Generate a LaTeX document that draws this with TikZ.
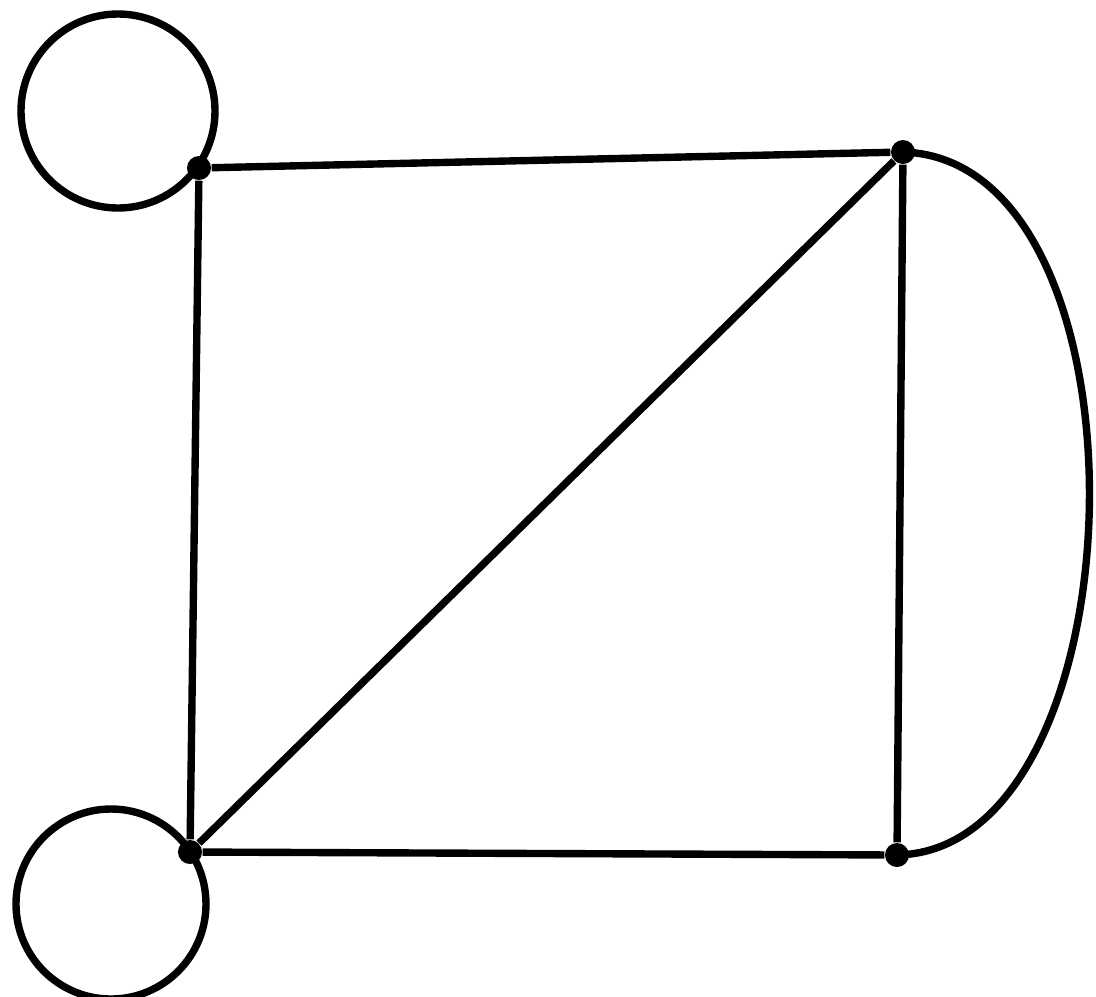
\documentclass[tikz,border=0pt]{standalone}
\usepackage{tikz}

\tikzset{
  vertex/.style={circle, fill=black, inner sep=0pt, minimum size=0.24cm},
  edge/.style={line width=2.1pt, black},
}

\begin{document}
\begin{tikzpicture}[x=0.01cm,y=-0.01cm]
\useasboundingbox (0,0) rectangle (1096,996);
\node[vertex] (tl) at (199,168) {};
\node[vertex] (tr) at (903,152) {};
\node[vertex] (bl) at (190,852) {};
\node[vertex] (br) at (897,855) {};
\coordinate (looptl) at (118,111);
\coordinate (loopbl) at (111,904);
\draw[edge] (looptl) circle[radius=97];
\draw[edge] (loopbl) circle[radius=95];
\draw[edge] (tl) -- (tr);
\draw[edge] (tl) -- (bl);
\draw[edge] (bl) -- (br);
\draw[edge] (tr) -- (br);
\draw[edge] (bl) -- (tr);
\draw[edge] (tr.center) .. controls (1160,160) and (1145,850) .. (br.center);
\end{tikzpicture}
\end{document}
